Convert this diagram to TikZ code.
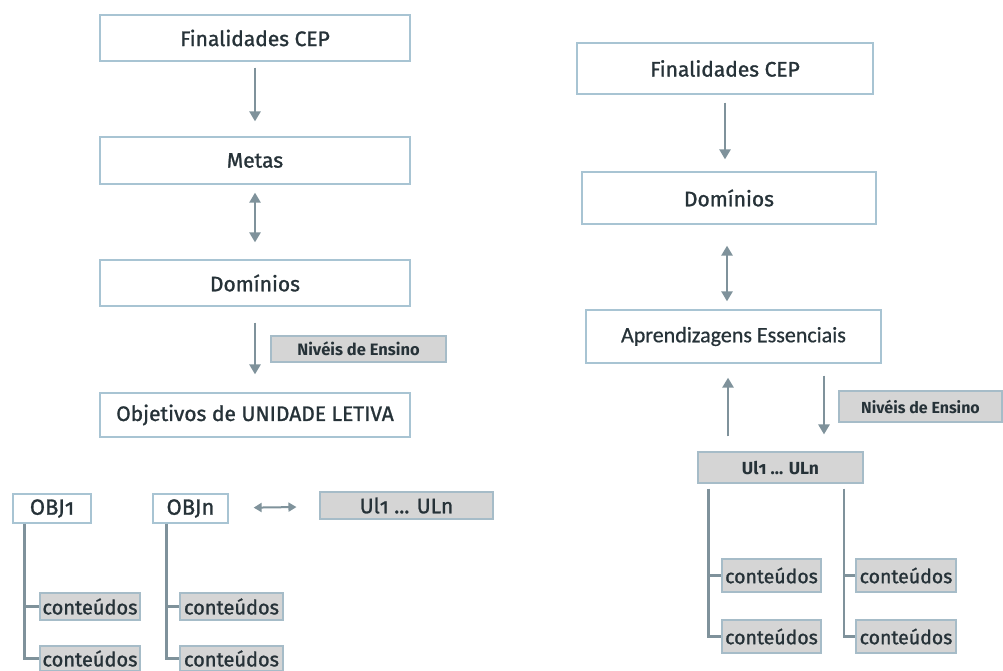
\documentclass[tikz,border=0pt]{standalone}
\usepackage{fontspec}
\setmainfont{Fira Sans}
\newfontfamily\med[FakeBold=1.2]{Fira Sans}
\newfontfamily\calib[FakeBold=0.6]{Carlito}
\usetikzlibrary{arrows.meta,calc}
\definecolor{bord}{HTML}{A8C4D3}
\definecolor{gbord}{HTML}{A6BCC8}
\definecolor{gfill}{HTML}{D5D5D5}
\definecolor{arrc}{HTML}{7F929B}
\definecolor{txt}{HTML}{263238}
\tikzset{
  wbox/.style={draw=bord, line width=1.3pt, fill=white, inner sep=0pt, text=txt,
    font=\med\fontsize{21}{23}\selectfont},
  gbox/.style={draw=gbord, line width=1.1pt, fill=gfill, inner sep=0pt, text=txt},
  arr/.style={draw=arrc, line width=2.8pt, -{Triangle[length=10pt,width=11pt]}},
  darr/.style={draw=arrc, line width=2.8pt, {Triangle[length=10pt,width=11pt]}-{Triangle[length=10pt,width=11pt]}},
  thinarr/.style={draw=arrc, line width=2pt, {Triangle[length=8pt,width=9pt]}-{Triangle[length=8pt,width=9pt]}},
  treeline/.style={draw=arrc, line width=2.4pt},
  cbox/.style={gbox, minimum height=27pt, font=\med\fontsize{20}{22}\selectfont},
}
\begin{document}
\begin{tikzpicture}[x=1pt,y=-1pt]
\useasboundingbox (0,0) rectangle (1003,670);
\fill[white] (0,0) rectangle (1003,670);

% ---------- left column ----------
\node[wbox, minimum width=310pt, minimum height=46pt] (LF) at (255,38) {Finalidades CEP};
\node[wbox, minimum width=310pt, minimum height=47pt] (LM) at (255,160.5) {Metas};
\node[wbox, minimum width=310pt, minimum height=46pt] (LD) at (255,283) {Domínios};
\node[gbox, minimum width=175pt, minimum height=26pt, font=\bfseries\fontsize{16.5}{18}\selectfont] (LN) at (358.5,349) {Nivéis de Ensino};
\node[wbox, minimum width=310pt, minimum height=44pt] (LO) at (255,415) {Objetivos de UNIDADE LETIVA};

\draw[arr, shorten <=6pt, shorten >=15pt] (LF) -- (LM);
\draw[darr, shorten <=8pt, shorten >=17pt] (LM) -- (LD);
\draw[arr, shorten <=16pt, shorten >=18pt] (LD) -- (LO);

% bottom left
\node[wbox, minimum width=78pt, minimum height=29pt, font=\med\fontsize{22}{24}\selectfont] (OBJ1) at (52,508.5) {OBJ{\addfontfeatures{Numbers=OldStyle}1}};
\node[wbox, minimum width=75pt, minimum height=29pt, font=\med\fontsize{22}{24}\selectfont] (OBJn) at (190.5,508.5) {OBJn};
\node[gbox, minimum width=173pt, minimum height=27pt, font=\med\fontsize{21}{23}\selectfont] (LU) at (406.5,505.5) {Ul{\addfontfeatures{Numbers=OldStyle}1} ... ULn};
\draw[thinarr, shorten <=25pt, shorten >=23pt] (OBJn) -- (LU);

\node[cbox, minimum width=100pt] (c11) at (90,606.5) {conteúdos};
\node[cbox, minimum width=100pt, minimum height=25pt] (c12) at (90,658.5) {conteúdos};
\node[cbox, minimum width=103pt] (c21) at (231.5,606.5) {conteúdos};
\node[cbox, minimum width=103pt, minimum height=25pt] (c22) at (231.5,658.5) {conteúdos};

\coordinate (t1) at ([xshift=12pt]OBJ1.south west);
\coordinate (t2) at ([xshift=14pt]OBJn.south west);
\draw[treeline] (t1) |- (c12.west);
\draw[treeline] (t1 |- c11.west) -- (c11.west);
\draw[treeline] (t2) |- (c22.west);
\draw[treeline] (t2 |- c21.west) -- (c21.west);

% ---------- right column ----------
\node[wbox, minimum width=296pt, minimum height=51pt] (RF) at (725,68.5) {Finalidades CEP};
\node[wbox, minimum width=294pt, minimum height=52pt] (RD) at (729,198) {Domínios};
\node[wbox, minimum width=295pt, minimum height=53pt, font=\calib\fontsize{22}{24}\selectfont] (RA) at (733.5,336.5) {Aprendizagens Essenciais};
\node[gbox, minimum width=163pt, minimum height=31pt, font=\bfseries\fontsize{16}{18}\selectfont] (RN) at (920.5,406.5) {Nivéis de Ensino};
\node[gbox, minimum width=165pt, minimum height=31pt, font=\bfseries\fontsize{17.5}{19}\selectfont] (RU) at (780.5,467.5) {Ul{\addfontfeatures{Numbers=OldStyle}1} ... ULn};

\draw[arr, shorten <=8pt, shorten >=12pt] (RF.south) -- (RF.south |- RD.north);
\draw[darr, shorten <=21pt, shorten >=8pt] ([xshift=-2pt]RD.south) -- ([xshift=-2pt]RD.south |- RA.north);
\draw[arr, shorten <=15pt, shorten >=14pt] ([xshift=-5.5pt]RA.south |- RU.north) -- ([xshift=-5.5pt]RA.south);
\draw[arr, shorten <=12pt, shorten >=17pt] ([xshift=90.5pt]RA.south) -- ([xshift=90.5pt]RA.south |- RU.north);

\node[cbox, minimum width=99pt, minimum height=33pt, font=\med\fontsize{19.5}{21}\selectfont] (rc11) at (771.5,575.5) {conteúdos};
\node[cbox, minimum width=99pt, minimum height=33pt, font=\med\fontsize{19.5}{21}\selectfont] (rc12) at (771.5,636.5) {conteúdos};
\node[cbox, minimum width=100pt, minimum height=33pt, font=\med\fontsize{19.5}{21}\selectfont] (rc21) at (906,575.5) {conteúdos};
\node[cbox, minimum width=100pt, minimum height=33pt, font=\med\fontsize{19.5}{21}\selectfont] (rc22) at (906,636.5) {conteúdos};

\coordinate (r1) at ([xshift=11pt,yshift=-5pt]RU.south west);
\coordinate (r2) at ([xshift=63.5pt,yshift=-5pt]RU.south);
\draw[treeline] (r1) |- (rc12.west);
\draw[treeline] (r1 |- rc11.west) -- (rc11.west);
\draw[treeline] (r2) |- (rc22.west);
\draw[treeline] (r2 |- rc21.west) -- (rc21.west);
\end{tikzpicture}
\end{document}
